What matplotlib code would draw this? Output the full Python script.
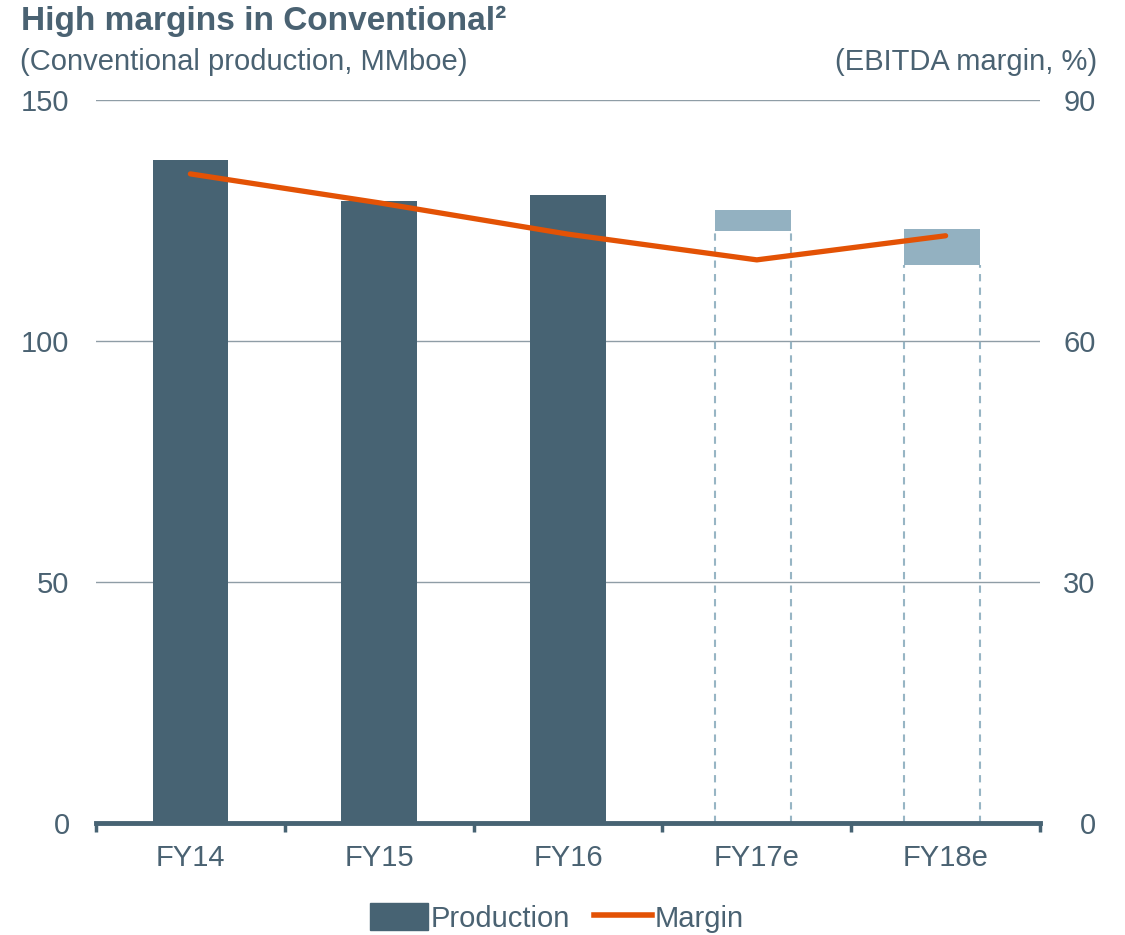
import matplotlib
matplotlib.use("Agg")
import matplotlib.pyplot as plt
from matplotlib.patches import Patch
from matplotlib.lines import Line2D

# data
categories = ["FY14", "FY15", "FY16", "FY17e", "FY18e"]
production = [137.6, 129.1, 130.3]          # actuals, MMboe
forecast_low = [122.9, 115.8]               # FY17e, FY18e range
forecast_high = [127.2, 123.2]
margin = [80.8, 77.2, 73.3, 70.1, 73.1]     # EBITDA margin, %
left_ticks = [0, 50, 100, 150]
right_ticks = [0, 30, 60, 90]

dark = "#476373"
light = "#93b1c1"
orange = "#e35205"
txt = "#4a6272"
grid_c = "#8f9da6"

plt.rcParams["font.family"] = ["Liberation Sans", "DejaVu Sans"]
plt.rcParams["font.size"] = 21

fig = plt.figure(figsize=(11.25, 9.35), dpi=100)
ax = fig.add_axes([96 / 1125, 1 - 823 / 935, (1040 - 96) / 1125, (823 - 100) / 935])

w = 0.4
xs = list(range(len(categories)))
ax.bar(xs[:3], production, width=w, color=dark, zorder=2)
# forecast bars sit a touch left of the category centre
fx = [x - 0.02 for x in xs[3:]]
heights = [h - l for h, l in zip(forecast_high, forecast_low)]
ax.bar(fx, heights, bottom=forecast_low, width=w, color=light, zorder=2)
for x, lo in zip(fx, forecast_low):
    ax.vlines([x - w / 2, x + w / 2], 0, lo, colors="#97b5c4", lw=1.5,
              linestyles=(0, (3.5, 3)), zorder=2)

ax.set_xlim(-0.5, 4.5)
ax.set_ylim(0, 150)
ax.set_yticks(left_ticks)
ax.yaxis.grid(True, color=grid_c, lw=1)
ax.set_axisbelow(True)
for s in ["top", "left", "right"]:
    ax.spines[s].set_visible(False)
ax.spines["bottom"].set_color(dark)
ax.spines["bottom"].set_linewidth(3.5)
ax.spines["bottom"].set_zorder(5)

ax.set_xticks(xs)
ax.set_xticklabels(categories)
ax.set_xticks([x - 0.5 for x in xs] + [4.5], minor=True)
ax.tick_params(axis="x", which="major", length=0, pad=15, colors=txt)
ax.tick_params(axis="x", which="minor", length=6.5, width=2.5, color=dark)
ax.tick_params(axis="y", length=0, pad=19, colors=txt)

ax2 = ax.twinx()
ax2.plot(xs, margin, color=orange, lw=3.8, solid_capstyle="round", zorder=3)
ax2.set_ylim(0, 90)
ax2.set_yticks(right_ticks)
ax2.tick_params(axis="y", length=0, pad=40, colors=txt)
for lab in ax2.get_yticklabels():
    lab.set_horizontalalignment("right")
for s in ax2.spines.values():
    s.set_visible(False)

fig.text(21 / 1125, 1 - 21 / 935, "High margins in Conventional²",
         fontsize=24, fontweight="bold", color=txt, va="center", ha="left")
fig.text(20 / 1125, 1 - 62 / 935, "(Conventional production, MMboe)",
         color=txt, va="center", ha="left")
fig.text(1097 / 1125, 1 - 62 / 935, "(EBITDA margin, %)",
         color=txt, va="center", ha="right")

handles = [Patch(color=dark, label="Production"),
           Line2D([0], [0], color=orange, lw=4, label="Margin")]
leg = fig.legend(handles=handles, loc="center", bbox_to_anchor=(557 / 1125, 1 - 918 / 935),
                 ncol=2, frameon=False, handlelength=2.0, handleheight=1.0,
                 handletextpad=0.1, columnspacing=0.8, borderaxespad=0)
for t in leg.get_texts():
    t.set_color(txt)

fig.savefig("out.png", dpi=100)
